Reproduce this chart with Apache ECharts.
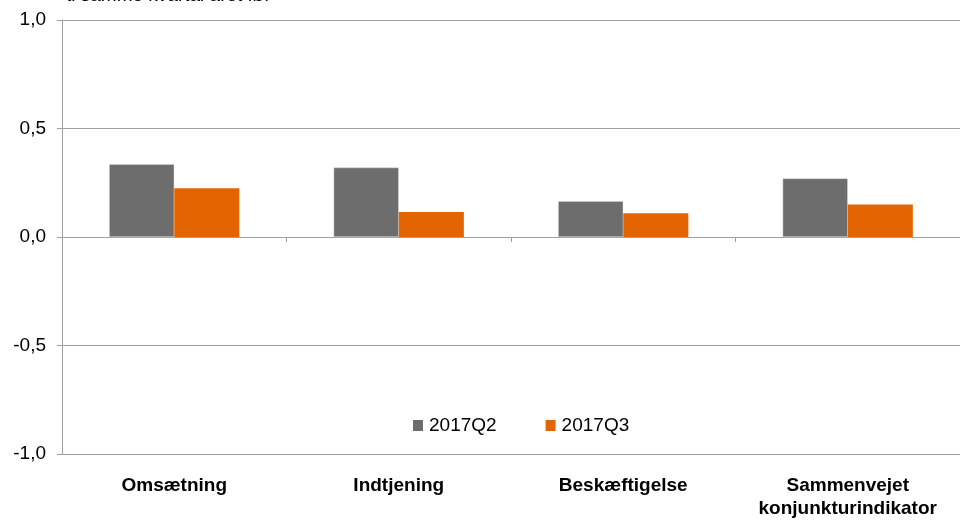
<!DOCTYPE html>
<html>
<head>
<meta charset="utf-8">
<script src="https://cdn.jsdelivr.net/npm/echarts@6/dist/echarts.min.js"></script>
<style>
  html, body { margin: 0; padding: 0; background: #fff; }
  #chart { width: 960px; height: 520px; }
</style>
</head>
<body>
<div id="chart"></div>
<script>
// data
const categories = ['Omsætning', 'Indtjening', 'Beskæftigelse', 'Sammenvejet\nkonjunkturindikator']
const q2Values = [0.335, 0.32, 0.165, 0.27]
const q3Values = [0.225, 0.115, 0.11, 0.15]
const seriesNames = ['2017Q2', '2017Q3']
const titleText = 'ti samme kvartal året før'

const chart = echarts.init(document.getElementById('chart'))
const font = 'Liberation Sans, Arial, sans-serif'

chart.setOption({
  animation: false,
  textStyle: { fontFamily: font },
  graphic: [{
    type: 'text', x: 66, y: -14,
    style: { text: titleText, font: '19px ' + font, fill: '#000' },
  }],
  legend: {
    data: seriesNames,
    left: 408, top: 411,
    icon: 'rect', itemWidth: 10, itemHeight: 11, itemGap: 49,
    itemStyle: { borderWidth: 0 },
    textStyle: { fontSize: 19, color: '#000', fontFamily: font, padding: [0, 0, 0, 1] },
  },
  grid: { left: 62, right: 0, top: 20, bottom: 64, containLabel: false },
  xAxis: [
    {
      type: 'category', data: categories, position: 'top',
      axisLine: { onZero: true, lineStyle: { color: '#a0a0a0', width: 1 } },
      axisTick: { show: true, inside: true, length: 5, lineStyle: { color: '#a0a0a0' } },
      axisLabel: { show: false },
    },
    {
      type: 'category', data: categories, position: 'bottom',
      axisLine: { show: false, onZero: false },
      axisTick: { show: false },
      axisLabel: {
        interval: 0, hideOverlap: false,
        margin: 20, fontSize: 19, fontWeight: 'bold', color: '#000',
        lineHeight: 23, fontFamily: font,
      },
    },
  ],
  yAxis: {
    type: 'value', min: -1, max: 1, interval: 0.5,
    axisLine: { show: true, lineStyle: { color: '#a0a0a0' } },
    axisTick: { show: true, length: 5, lineStyle: { color: '#a0a0a0' } },
    splitLine: { lineStyle: { color: '#a0a0a0', width: 1 } },
    axisLabel: {
      fontSize: 19, color: '#000', margin: 16, fontFamily: font,
      formatter: (v) => v.toFixed(1).replace('.', ','),
    },
  },
  series: [
    {
      name: seriesNames[0], type: 'bar', data: q2Values, xAxisIndex: 0,
      barGap: '0%', barCategoryGap: '42%',
      itemStyle: { color: '#6d6d6d', borderColor: '#d8d8d8', borderWidth: 0.5 },
    },
    {
      name: seriesNames[1], type: 'bar', data: q3Values, xAxisIndex: 0,
      itemStyle: { color: '#e36400' },
    },
  ],
})
</script>
</body>
</html>
